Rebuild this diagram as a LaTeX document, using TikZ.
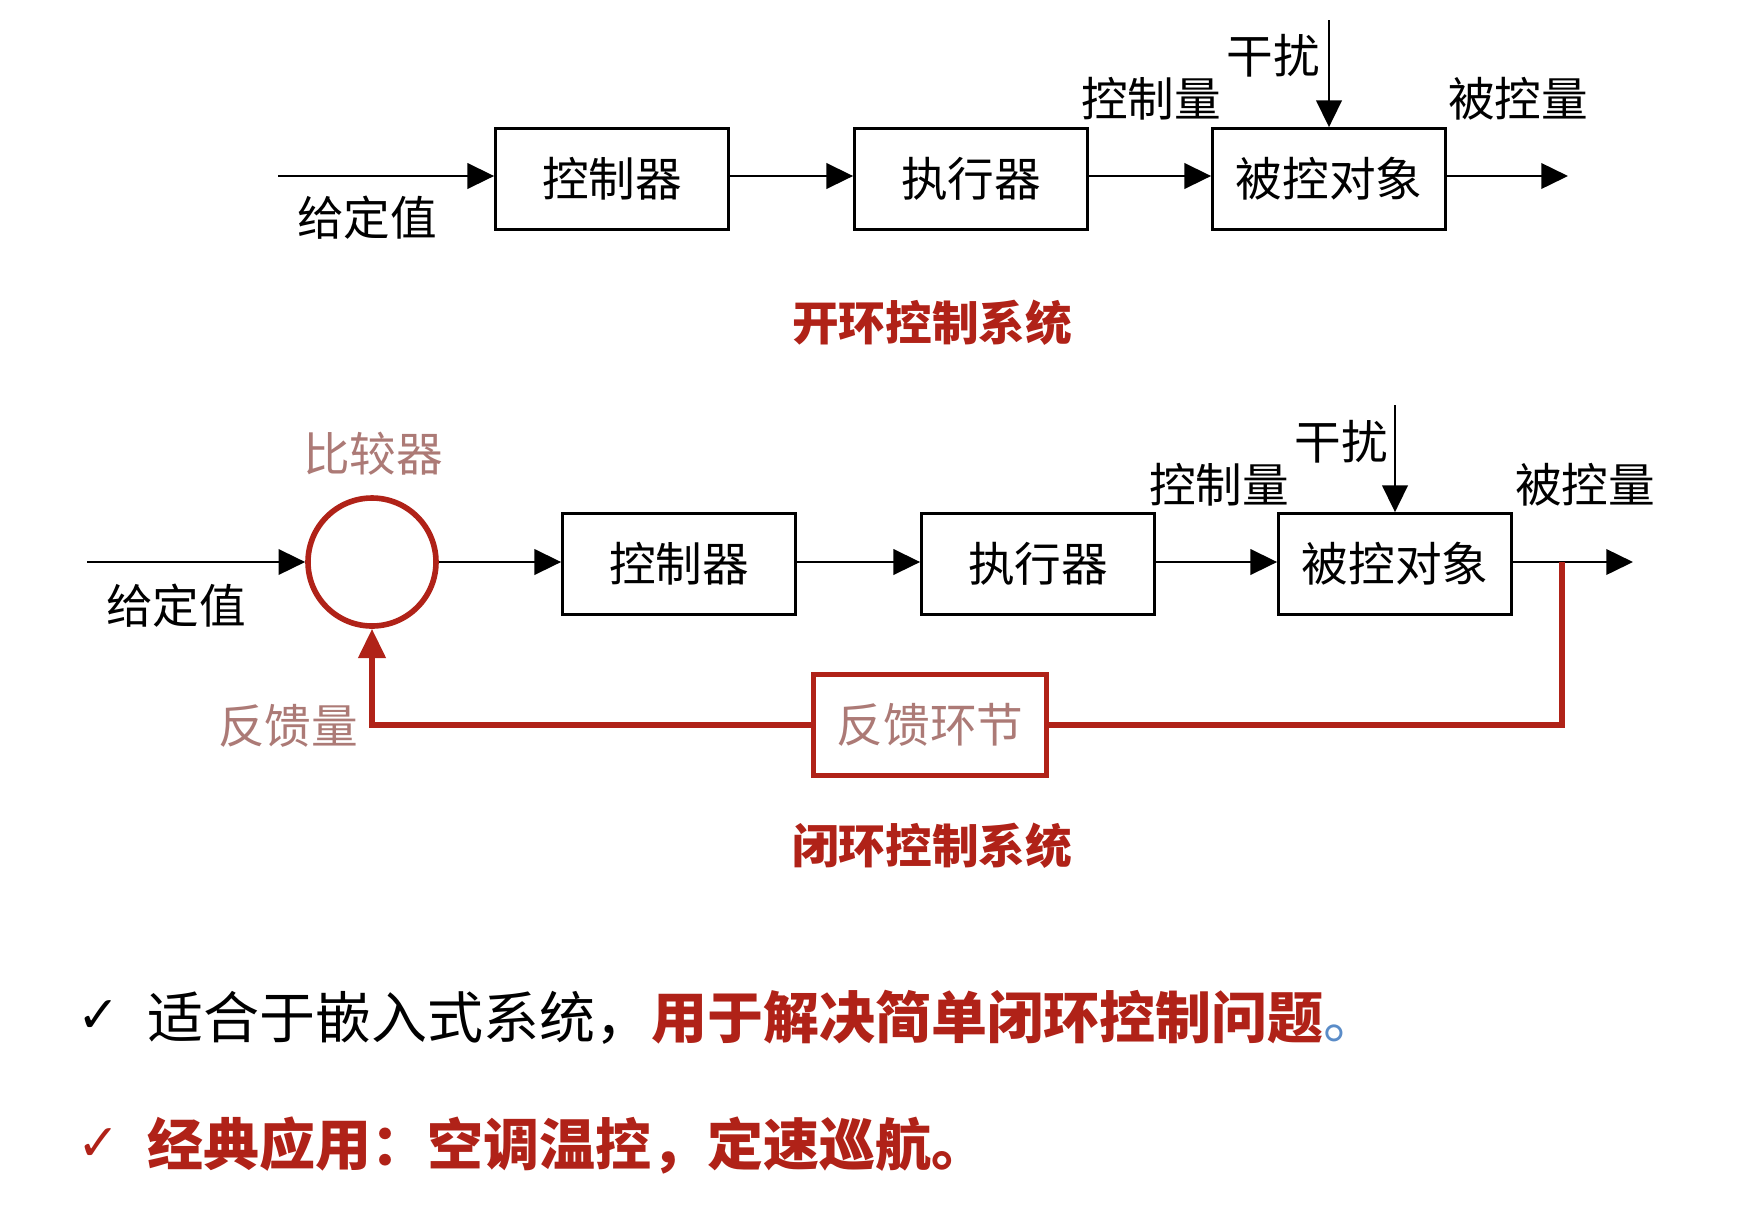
\documentclass[tikz,border=0pt]{standalone}
\usepackage{fontspec}
\setmainfont{Noto Sans CJK SC}
\newfontfamily\symfont{DejaVu Sans}
\usetikzlibrary{arrows.meta}

\definecolor{loopred}{RGB}{176,34,24}
\definecolor{labelpink}{RGB}{172,122,118}
\definecolor{dotblue}{RGB}{90,140,200}

\tikzset{every picture/.style={line width=0.75pt}}
\tikzset{
  block/.style={draw, line width=1.8pt, minimum width=175pt, minimum height=76pt, inner sep=0pt, font=\fontsize{35}{40}\selectfont},
  fbblock/.style={block, draw=loopred, line width=3.4pt, text=labelpink},
  cmpnode/.style={circle, draw=loopred, line width=4.2pt, minimum size=96pt, inner sep=0pt},
  sig/.style={draw, line width=2pt, -{Triangle[length=20pt,width=19pt]}},
  fbsig/.style={draw=loopred, line width=4.2pt},
  lbl/.style={inner sep=0pt, font=\fontsize{35}{40}\selectfont},
  pinklbl/.style={lbl, text=labelpink},
  title/.style={inner sep=0pt, text=loopred, font=\fontsize{35}{40}\selectfont\bfseries},
  bullet/.style={inner sep=0pt, font=\fontsize{42}{46}\selectfont},
  tick/.style={inner sep=0pt, font=\fontsize{38}{42}\selectfont\symfont}
}

\begin{document}
\begin{tikzpicture}[x=0.75pt,y=0.75pt,yscale=-1,xscale=1]
\useasboundingbox[fill=white] (0,0) rectangle (1756,1208);

%open loop
\node[block] (ctrlA) at (612,179) {控制器};
\node[block] (exeA) at (971,179) {执行器};
\node[block] (plantA) at (1329,179) {被控对象};
\coordinate (inA) at (278,176);
\coordinate (outA) at (1568,176);
\coordinate (distA) at (1329,20);
\draw[sig] (inA) -- (inA -| ctrlA.west);
\draw[sig] (ctrlA.east |- inA) -- (exeA.west |- inA);
\draw[sig] (exeA.east |- inA) -- (plantA.west |- inA);
\draw[sig] (plantA.east |- inA) -- (outA);
\draw[sig] (distA) -- (plantA.north);
\node[lbl] (setA) at (367,218) {给定值};
\node[lbl] (uA) at (1151,99) {控制量};
\node[lbl] (dA) at (1273,56) {干扰};
\node[lbl] (yA) at (1518,99) {被控量};
\node[title] (titleA) at (932,323) {开环控制系统};

%closed loop
\node[cmpnode] (cmp) at (372,562) {};
\node[block] (ctrlB) at (679,564) {控制器};
\node[block] (exeB) at (1038,564) {执行器};
\node[block] (plantB) at (1395,564) {被控对象};
\node[fbblock] (fb) at (930,725) {反馈环节};
\coordinate (inB) at (87,562);
\coordinate (outB) at (1633,562);
\coordinate (tap) at (1562,562);
\coordinate (distB) at (1395,405);
\draw[sig] (inB) -- (cmp.west);
\draw[sig] (cmp.east) -- (ctrlB.west |- cmp);
\draw[sig] (ctrlB.east |- cmp) -- (exeB.west |- cmp);
\draw[sig] (exeB.east |- cmp) -- (plantB.west |- cmp);
\draw[sig] (plantB.east |- cmp) -- (outB);
\draw[sig] (distB) -- (plantB.north);
\draw[fbsig] (tap) |- (fb.east);
\draw[fbsig, -{Triangle[length=22pt,width=20pt]}] (fb.west) -| (cmp.south);
\node[pinklbl] (cmpname) at (373,454) {比较器};
\node[pinklbl] (fbq) at (288,726) {反馈量};
\node[lbl] (setB) at (176,606) {给定值};
\node[lbl] (uB) at (1219,485) {控制量};
\node[lbl] (dB) at (1341,442) {干扰};
\node[lbl] (yB) at (1585,485) {被控量};
\node[title] (titleB) at (932,846) {闭环控制系统};

%notes
\node[tick] (tick1) at (99,1017) {✓};
\node[bullet, anchor=west] (note1) at (147,1017) {适合于嵌入式系统，\textcolor{loopred}{\bfseries 用于解决简单闭环控制问题}\textcolor{dotblue}{。}};
\node[tick, text=loopred] (tick2) at (99,1145) {✓};
\node[bullet, anchor=west, text=loopred, font=\fontsize{42}{46}\selectfont\bfseries] (note2) at (147,1145) {经典应用：空调温控，定速巡航。};

\end{tikzpicture}
\end{document}
